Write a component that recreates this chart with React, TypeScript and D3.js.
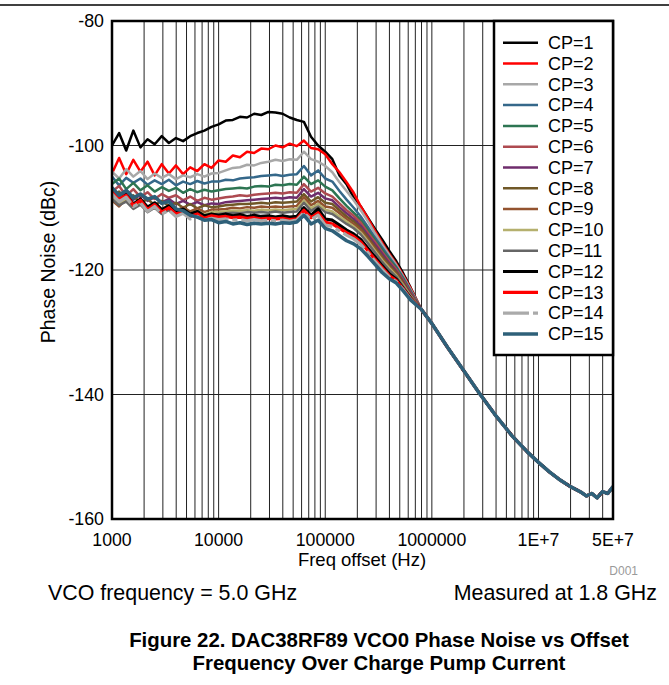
import React from "react";
import * as d3 from "d3";

// ---------- DATA ----------
const freqLow = [
  1000, 1166, 1359, 1585, 1848, 2154, 2512, 2929, 3415, 3981, 4642, 5412, 6310, 7356, 8577,
  10000, 11659, 13594, 15849, 18478, 21544, 25119, 29286, 34145, 39811, 46416, 54117, 63096,
  73564, 85770, 100000, 116591, 135936, 158489, 184785, 215443, 251189, 292864, 341455,
  398107, 464159, 541170, 630957,
];
const freqTail = [
  794328, 1000000, 1412538, 1995262, 2818383, 3981072, 5623413, 7943282, 10000000, 12589254,
  15848932, 19952623, 25118864, 28183829, 31622777, 35481339, 39810717, 44668359, 50000000,
];
const tailDb = [
  -126.3, -128.6, -132.5, -136.2, -139.9, -143.4, -146.6, -149.3, -150.9, -152.4, -153.7,
  -154.8, -155.7, -156.3, -155.9, -156.6, -155.6, -155.9, -154.8,
];

const cp1 = [-100.0, -98.0, -100.8, -97.6, -100.3, -99.0, -99.8, -98.5, -99.6, -98.8, -99.3, -98.5, -98.0, -97.6, -97.0, -96.6, -96.0, -95.9, -95.4, -95.5, -94.9, -95.1, -94.6, -94.7, -94.9, -95.5, -95.9, -96.2, -98.6, -100.0, -101.0, -102.2, -104.8, -106.2, -108.4, -109.8, -111.6, -113.4, -115.1, -116.9, -118.6, -120.6, -122.8];
const cp2 = [-104.5, -102.0, -104.6, -102.3, -104.2, -102.6, -104.8, -103.0, -104.5, -103.2, -104.6, -103.5, -104.1, -103.0, -103.6, -102.4, -102.6, -101.6, -101.9, -101.0, -101.2, -100.5, -100.6, -100.0, -100.3, -99.7, -100.1, -99.2, -100.4, -100.6, -101.4, -103.0, -104.3, -105.9, -107.6, -109.8, -111.7, -113.7, -115.6, -117.4, -119.0, -120.9, -122.9];
const cp3 = [-104.2, -105.3, -103.8, -105.0, -104.1, -105.4, -104.5, -105.2, -104.6, -105.4, -104.8, -105.1, -104.6, -105.0, -104.5, -104.4, -104.0, -103.6, -103.5, -103.1, -103.2, -102.8, -102.6, -102.3, -102.5, -102.2, -102.3, -101.0, -102.2, -102.6, -103.3, -104.3, -105.9, -107.3, -108.8, -110.4, -112.2, -114.1, -115.9, -117.6, -119.2, -121.1, -123.1];
const cp4 = [-105.0, -106.4, -105.2, -106.0, -105.3, -106.3, -105.6, -106.2, -105.5, -106.4, -105.8, -106.2, -105.7, -106.1, -105.8, -105.8, -105.5, -105.6, -105.3, -105.2, -105.1, -104.9, -104.8, -104.7, -104.9, -104.7, -104.6, -103.3, -104.8, -104.0, -105.3, -105.8, -107.3, -108.7, -110.0, -111.4, -113.1, -114.8, -116.4, -118.0, -119.5, -121.3, -123.3];
const cp5 = [-106.2, -105.3, -107.0, -106.0, -107.2, -106.4, -107.4, -106.7, -107.3, -106.8, -107.6, -107.0, -107.5, -107.1, -107.4, -107.2, -107.0, -106.9, -106.8, -106.9, -106.6, -106.5, -106.6, -106.3, -106.4, -106.2, -106.3, -105.0, -106.2, -105.6, -106.6, -107.2, -108.5, -109.7, -110.8, -112.0, -113.6, -115.2, -116.8, -118.3, -119.7, -121.5, -123.5];
const cp6 = [-107.4, -106.5, -108.1, -107.0, -108.3, -107.5, -108.6, -107.8, -108.4, -108.0, -108.8, -108.2, -108.9, -108.4, -108.7, -108.5, -108.3, -108.2, -108.0, -108.1, -107.9, -107.8, -107.7, -107.6, -107.7, -107.5, -107.6, -106.2, -107.4, -106.8, -107.7, -108.2, -109.3, -110.4, -111.3, -112.4, -114.0, -115.5, -117.1, -118.6, -119.9, -121.7, -123.6];
const cp7 = [-107.0, -108.4, -107.6, -108.7, -107.9, -108.9, -108.3, -109.1, -108.6, -109.4, -108.9, -109.5, -109.1, -109.6, -109.3, -109.4, -109.1, -109.0, -108.9, -108.8, -108.7, -108.6, -108.5, -108.4, -108.5, -108.3, -108.4, -107.0, -108.2, -107.6, -108.5, -108.8, -109.9, -110.9, -111.8, -112.9, -114.4, -115.9, -117.4, -118.9, -120.2, -121.9, -123.8];
const cp8 = [-108.2, -107.4, -109.0, -108.0, -109.3, -108.6, -109.6, -108.9, -109.7, -109.2, -110.0, -109.4, -110.1, -109.6, -109.9, -109.8, -109.6, -109.5, -109.4, -109.4, -109.3, -109.2, -109.3, -109.1, -109.2, -109.1, -109.0, -107.8, -109.0, -108.3, -109.2, -109.4, -110.4, -111.4, -112.2, -113.3, -114.8, -116.3, -117.8, -119.2, -120.4, -122.1, -124.0];
const cp9 = [-108.8, -109.8, -108.6, -109.9, -108.9, -110.2, -109.3, -110.3, -109.6, -110.5, -109.9, -110.6, -110.1, -110.7, -110.3, -110.3, -110.2, -110.0, -110.1, -109.9, -110.0, -109.8, -109.9, -109.8, -109.9, -109.8, -109.7, -108.3, -109.6, -108.9, -109.8, -110.0, -110.9, -111.8, -112.6, -113.6, -115.1, -116.6, -118.1, -119.5, -120.7, -122.3, -124.1];
const cp10 = [-108.0, -109.3, -108.5, -110.0, -109.1, -110.4, -109.6, -110.6, -110.0, -110.9, -110.4, -111.0, -110.5, -111.1, -110.7, -110.7, -110.6, -110.5, -110.5, -110.4, -110.5, -110.3, -110.4, -110.3, -110.4, -110.3, -110.2, -108.9, -110.1, -109.4, -110.3, -110.6, -111.4, -112.2, -113.0, -114.0, -115.4, -116.9, -118.4, -119.7, -120.9, -122.5, -124.2];
const cp11 = [-108.6, -109.6, -109.0, -110.2, -109.5, -110.7, -110.0, -111.0, -110.4, -111.2, -110.7, -111.3, -110.9, -111.4, -111.1, -111.0, -110.9, -110.8, -110.9, -110.7, -110.8, -110.7, -110.8, -110.6, -110.8, -110.7, -110.6, -109.2, -110.5, -109.8, -110.7, -111.0, -111.8, -112.6, -113.3, -114.3, -115.7, -117.2, -118.7, -120.0, -121.1, -122.7, -124.3];
const cp12 = [-107.5, -108.8, -107.9, -109.4, -108.6, -109.9, -109.2, -110.3, -109.7, -110.6, -110.2, -111.0, -110.6, -111.3, -111.0, -111.2, -111.0, -111.3, -111.1, -111.4, -111.2, -111.4, -111.3, -111.5, -111.3, -111.5, -111.4, -110.0, -111.2, -110.2, -111.8, -112.0, -112.8, -113.6, -114.2, -115.1, -116.5, -117.9, -119.3, -120.6, -121.5, -123.0, -124.5];
const cp13 = [-107.2, -108.6, -108.0, -109.6, -108.8, -110.3, -109.5, -110.7, -110.0, -111.0, -110.6, -111.4, -111.0, -111.7, -111.3, -111.5, -111.4, -111.6, -111.5, -111.7, -111.6, -111.8, -111.7, -111.8, -111.7, -111.9, -111.8, -110.4, -111.6, -110.8, -112.3, -112.6, -113.3, -114.0, -114.6, -115.5, -116.9, -118.3, -119.6, -120.9, -121.7, -123.1, -124.6];
const cp14 = [-107.8, -109.0, -108.3, -109.8, -109.2, -110.6, -109.8, -111.0, -110.4, -111.4, -110.9, -111.8, -111.4, -112.0, -111.7, -111.9, -111.8, -112.0, -111.9, -112.1, -111.9, -112.1, -112.0, -112.1, -112.0, -112.2, -112.0, -110.8, -111.9, -111.2, -112.8, -113.0, -113.7, -114.4, -115.0, -115.9, -117.2, -118.6, -119.9, -121.1, -121.9, -123.2, -124.7];
const cp15 = [-106.8, -108.0, -107.2, -108.4, -107.8, -108.6, -108.2, -109.3, -109.0, -110.2, -110.5, -111.2, -111.5, -112.0, -111.9, -112.4, -112.2, -112.6, -112.4, -112.7, -112.5, -112.6, -112.5, -112.6, -112.4, -112.5, -112.3, -111.2, -112.6, -112.0, -113.3, -113.7, -114.5, -115.3, -115.8, -116.6, -117.8, -119.1, -120.4, -121.4, -122.1, -123.4, -124.8];

const seriesNames = ["CP=1", "CP=2", "CP=3", "CP=4", "CP=5", "CP=6", "CP=7", "CP=8", "CP=9", "CP=10", "CP=11", "CP=12", "CP=13", "CP=14", "CP=15"];
const seriesValues = [cp1, cp2, cp3, cp4, cp5, cp6, cp7, cp8, cp9, cp10, cp11, cp12, cp13, cp14, cp15];

const xTickValues = [1000, 10000, 100000, 1000000, 10000000, 50000000];
const xTickLabels = ["1000", "10000", "100000", "1000000", "1E+7", "5E+7"];
const yTickValues = [-80, -100, -120, -140, -160];
const yTickLabels = ["-80", "-100", "-120", "-140", "-160"];

// ---------- STYLES ----------
const seriesStyles = [
  { color: "#000000", width: 2.5, dash: "" },
  { color: "#ff0000", width: 2.5, dash: "" },
  { color: "#a8a8a8", width: 2.5, dash: "" },
  { color: "#35688a", width: 2.5, dash: "" },
  { color: "#2d7552", width: 2.5, dash: "" },
  { color: "#ae4a50", width: 2.5, dash: "" },
  { color: "#6f2d6c", width: 2.5, dash: "" },
  { color: "#705828", width: 2.5, dash: "" },
  { color: "#93532f", width: 2.5, dash: "" },
  { color: "#b5b06e", width: 2.5, dash: "" },
  { color: "#666666", width: 2.5, dash: "" },
  { color: "#000000", width: 3.2, dash: "" },
  { color: "#ff0000", width: 3.2, dash: "" },
  { color: "#aaaaaa", width: 3.2, dash: "26,4,5,4" },
  { color: "#2e6079", width: 3.5, dash: "" },
];

const W = 669;
const H = 685;
const PL = 112, PR = 613, PT = 21, PB = 519;
const FONT = "'Liberation Sans', Arial, Helvetica, sans-serif";

export default function App() {
  const x = d3.scaleLog().domain([1000, 5e7]).range([PL, PR]);
  const y = d3.scaleLinear().domain([-160, -80]).range([PB, PT]);

  const freqAll = freqLow.concat(freqTail);
  const line = d3
    .line<[number, number]>()
    .x((d) => x(d[0]))
    .y((d) => y(d[1]));

  const gridX: number[] = [];
  for (let e = 3; e <= 7; e++) {
    for (let m = 1; m <= 9; m++) {
      const v = m * Math.pow(10, e);
      if (v > 1000 && v < 5e7) gridX.push(v);
    }
  }
  const gridY = yTickValues.filter((v) => v > -160 && v < -80);

  const legX = 494, legY = PT, legW = PR - 494, legH = 334;
  const rowY = (i: number) => 42.7 + i * 20.8;

  return (
    <svg
      width={W}
      height={H}
      viewBox={`0 0 ${W} ${H}`}
      style={{ position: "absolute", left: 0, top: 0, background: "#fff" }}
      fontFamily={FONT}
    >
      <rect x={0} y={0} width={W} height={H} fill="#fff" />
      <line x1={0} x2={W} y1={5} y2={5} stroke="#000" strokeWidth={1.5} />
      <defs>
        <clipPath id="plotclip">
          <rect x={PL} y={PT} width={PR - PL} height={PB - PT} />
        </clipPath>
      </defs>

      {/* grid */}
      {gridX.map((v) => (
        <line key={"gx" + v} x1={x(v)} x2={x(v)} y1={PT} y2={PB} stroke="#222" strokeWidth={1} />
      ))}
      {gridY.map((v) => (
        <line key={"gy" + v} x1={PL} x2={PR} y1={y(v)} y2={y(v)} stroke="#222" strokeWidth={1} />
      ))}

      {/* series */}
      <g clipPath="url(#plotclip)">
        {seriesValues.map((vals, i) => {
          const pts: [number, number][] = freqAll.map((f, j) => [
            f,
            j < vals.length ? vals[j] : tailDb[j - vals.length],
          ]);
          const s = seriesStyles[i];
          return (
            <path
              key={seriesNames[i]}
              d={line(pts) || ""}
              fill="none"
              stroke={s.color}
              strokeWidth={s.width}
              strokeDasharray={s.dash || undefined}
              strokeLinejoin="round"
            />
          );
        })}
      </g>

      {/* frame */}
      <rect x={PL} y={PT} width={PR - PL} height={PB - PT} fill="none" stroke="#000" strokeWidth={2.5} />

      {/* legend */}
      <rect x={legX} y={legY} width={legW} height={legH} fill="#fff" stroke="#000" strokeWidth={2.5} />
      {seriesNames.map((n, i) => {
        const s = seriesStyles[i];
        return (
          <g key={"leg" + n}>
            <line
              x1={503}
              x2={538}
              y1={rowY(i)}
              y2={rowY(i)}
              stroke={s.color}
              strokeWidth={s.width}
              strokeDasharray={s.dash || undefined}
            />
            <text x={548} y={rowY(i)} dy="0.35em" fontSize={18} fill="#000">
              {n}
            </text>
          </g>
        );
      })}

      {/* axes labels */}
      {yTickValues.map((v, i) => (
        <text key={"yt" + v} x={104} y={y(v)} dy="0.35em" textAnchor="end" fontSize={17.8}>
          {yTickLabels[i]}
        </text>
      ))}
      {xTickValues.map((v, i) => (
        <text key={"xt" + v} x={x(v)} y={546} textAnchor="middle" fontSize={17.7}>
          {xTickLabels[i]}
        </text>
      ))}
      <text x={362} y={566} textAnchor="middle" fontSize={18.5}>
        Freq offset (Hz)
      </text>
      <text
        transform={`translate(55, 262) rotate(-90)`}
        textAnchor="middle"
        fontSize={19.5}
      >
        Phase Noise (dBc)
      </text>
      <text x={638} y={575} textAnchor="end" fontSize={12} fill="#9a9a9a">
        D001
      </text>
      <text x={48} y={600} fontSize={21.4}>
        VCO frequency = 5.0 GHz
      </text>
      <text x={657} y={600} textAnchor="end" fontSize={21.4}>
        Measured at 1.8 GHz
      </text>
      <text x={379} y={647} textAnchor="middle" fontSize={20.4} fontWeight="bold">
        Figure 22. DAC38RF89 VCO0 Phase Noise vs Offset
      </text>
      <text x={379} y={670} textAnchor="middle" fontSize={20.4} fontWeight="bold">
        Frequency Over Charge Pump Current
      </text>
    </svg>
  );
}
